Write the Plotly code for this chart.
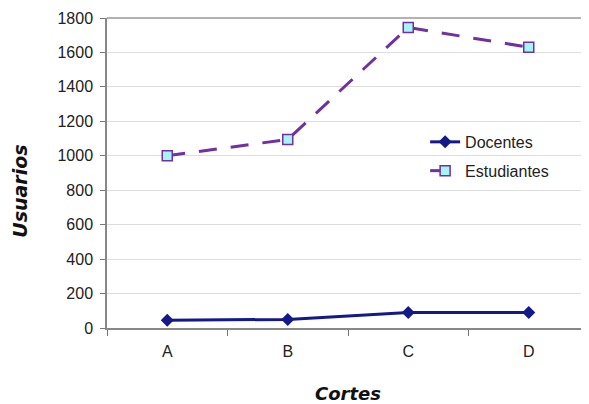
import plotly.graph_objects as go

cortes = ["A", "B", "C", "D"]
docentes = [45, 50, 90, 90]
estudiantes = [1000, 1095, 1745, 1630]
y_ticks = [0, 200, 400, 600, 800, 1000, 1200, 1400, 1600, 1800]

fig = go.Figure()
fig.add_trace(go.Scatter(
    x=cortes, y=docentes, name="Docentes", mode="lines+markers",
    line=dict(color="#13198a", width=3),
    marker=dict(symbol="diamond", size=10, color="#13198a"),
    legendgroup="d",
))
fig.add_trace(go.Scatter(
    x=cortes, y=estudiantes, name="Estudiantes", mode="lines+markers",
    line=dict(color="#7030a0", width=3, dash="18px,14px"),
    marker=dict(symbol="square", size=10, color="#a6f4f8",
                line=dict(color="#7030a0", width=1.5)),
    legendgroup="e",
))

fig.update_layout(
    width=606, height=404,
    margin=dict(l=99, r=25, t=10, b=84, autoexpand=False),
    paper_bgcolor="white", plot_bgcolor="white",
    font=dict(family="Liberation Sans, Arial, sans-serif", size=16, color="#222222"),
    showlegend=True,
    legend=dict(x=0.66, y=0.655, xanchor="left", yanchor="top",
                bgcolor="rgba(0,0,0,0)", font=dict(size=16, color="#222222"),
                traceorder="grouped", tracegroupgap=5),
    xaxis=dict(
        type="category", range=[-0.5, 3.5], tickson="boundaries",
        ticks="outside", ticklen=6, tickcolor="#777777",
        ticklabelstandoff=8, automargin=False,
        showline=True, linecolor="#888888", linewidth=1.5,
        showgrid=False, zeroline=False,
        title=dict(text="<b><i>Cortes</i></b>", standoff=28,
                   font=dict(family="DejaVu Sans, Verdana, sans-serif", size=18, color="#111111")),
    ),
    yaxis=dict(
        range=[0, 1800], tickvals=y_ticks,
        ticks="outside", ticklen=5, tickcolor="#777777",
        ticklabelstandoff=4, automargin=False,
        showline=True, linecolor="#888888", linewidth=1.5,
        showgrid=True, gridcolor="#dddddd", gridwidth=1, zeroline=False,
    ),
    annotations=[dict(text="<b><i>Usuarios</i></b>", xref="paper", yref="paper",
                      x=-0.181, y=0.442, xanchor="center", yanchor="middle",
                      textangle=-90, showarrow=False,
                      font=dict(family="DejaVu Sans, Verdana, sans-serif", size=19, color="#111111"))],
    shapes=[dict(type="line", xref="paper", yref="paper", x0=0, x1=1, y0=1, y1=1,
                 line=dict(color="#999999", width=1.5))],
)

fig.write_html("out.html")
